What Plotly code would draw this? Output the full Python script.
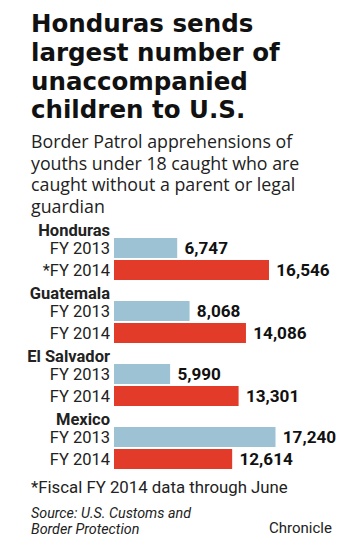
import plotly.graph_objects as go

countries = ["Honduras", "Guatemala", "El Salvador", "Mexico"]
year_labels_2013 = ["FY 2013", "FY 2013", "FY 2013", "FY 2013"]
year_labels_2014 = ["*FY 2014", "FY 2014", "FY 2014", "FY 2014"]
values_2013 = [6747, 8068, 5990, 17240]
values_2014 = [16546, 14086, 13301, 12614]

title_lines = ["Honduras sends", "largest number of", "unaccompanied", "children to U.S."]
subtitle_lines = ["Border Patrol apprehensions of", "youths under 18 caught who are",
                  "caught without a parent or legal", "guardian"]
footnote = "*Fiscal FY 2014 data through June"
source_lines = ["Source: U.S. Customs and", "Border Protection"]
credit = "Chronicle"

W, H = 360, 540
L = 114
BLUE = "#9cc2d4"
RED = "#e23b29"
FONT = "Roboto"

# layout: y axis in pixel units (reversed)
first_header = 230
group_gap = 63
off1, off2 = 18, 40
bar_h = 20

hdr_y = [first_header + i * group_gap for i in range(len(countries))]
y13 = [y + off1 for y in hdr_y]
y14 = [y + off2 for y in hdr_y]

px_per_unit = 155 / 16546
xmax = (W - L) / px_per_unit

fmt = lambda v: f" {v:,}"

fig = go.Figure()
fig.add_trace(go.Bar(y=y13, x=values_2013, orientation="h", width=bar_h,
                     marker=dict(color=BLUE, line=dict(width=0)),
                     text=[fmt(v) for v in values_2013], textposition="outside",
                     textfont=dict(family=FONT, size=18, color="#111111", weight="bold"),
                     cliponaxis=False, hoverinfo="skip"))
fig.add_trace(go.Bar(y=y14, x=values_2014, orientation="h", width=bar_h,
                     marker=dict(color=RED, line=dict(width=0)),
                     text=[fmt(v) for v in values_2014], textposition="outside",
                     textfont=dict(family=FONT, size=18, color="#111111", weight="bold"),
                     cliponaxis=False, hoverinfo="skip"))

tickvals, ticktext = [], []
for i, c in enumerate(countries):
    tickvals += [hdr_y[i], y13[i], y14[i]]
    ticktext += [f"<b>{c}</b>", year_labels_2013[i], year_labels_2014[i]]

fig.update_layout(
    width=W, height=H, margin=dict(l=L, r=0, t=0, b=0),
    paper_bgcolor="white", plot_bgcolor="white", showlegend=False,
    barmode="overlay", uniformtext=dict(mode=False),
    xaxis=dict(range=[0, xmax], visible=False, fixedrange=True),
    yaxis=dict(range=[H, 0], tickvals=tickvals, ticktext=ticktext, showgrid=False,
               zeroline=False, showline=False, ticks="", ticklabelstandoff=3,
               tickfont=dict(family=FONT, size=16.5, color="#222222"), fixedrange=True),
    font=dict(family=FONT),
)

pw = W - L
def px(xp):
    return (xp - L) / pw
def py(yp):
    return 1 - yp / H

ann = []
for i, t in enumerate(title_lines):
    ann.append(dict(text=f"<b>{t}</b>", x=px(29), y=py(24 + i * 28.5), xanchor="left", yanchor="middle",
                    font=dict(family="DejaVu Sans", size=24.5, color="#111111", weight="bold")))
for i, t in enumerate(subtitle_lines):
    ann.append(dict(text=t, x=px(29), y=py(141 + i * 21.7), xanchor="left", yanchor="middle",
                    font=dict(family="Open Sans", size=17.8, color="#222222")))
ann.append(dict(text=footnote, x=px(29), y=py(487), xanchor="left", yanchor="middle",
                font=dict(family=FONT, size=16.8, color="#222222")))
for i, t in enumerate(source_lines):
    ann.append(dict(text=f"<i>{t}</i>", x=px(29), y=py(513 + i * 15.5), xanchor="left", yanchor="middle",
                    font=dict(family=FONT, size=14.3, color="#222222")))
ann.append(dict(text=credit, x=px(334), y=py(528), xanchor="right", yanchor="middle",
                font=dict(family=FONT, size=15, color="#222222")))
for a in ann:
    a.update(xref="paper", yref="paper", showarrow=False)
fig.update_layout(annotations=ann)

fig.write_html("out.html", config={"displayModeBar": False},
               post_script="document.body.style.margin='0';document.body.style.overflow='hidden';")
